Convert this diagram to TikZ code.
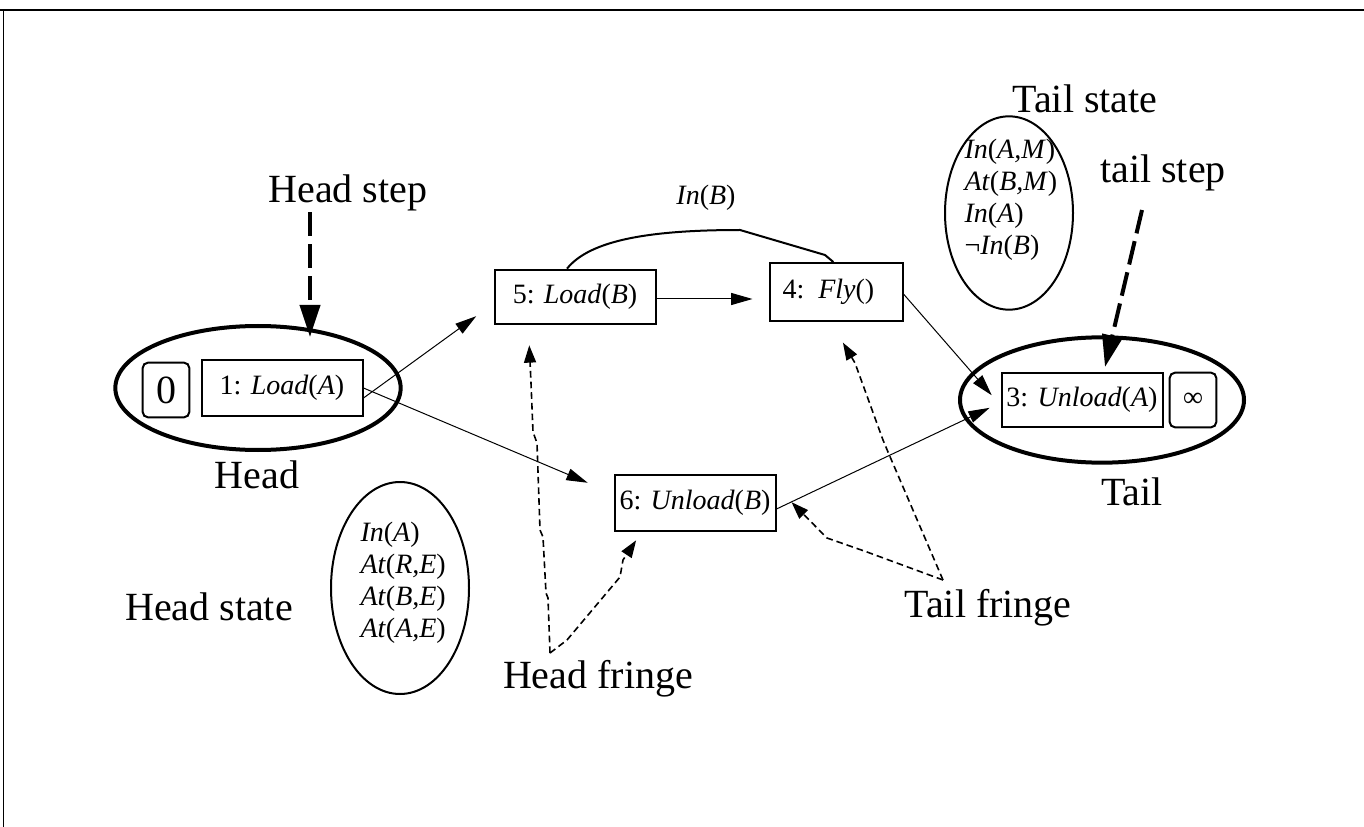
\documentclass[tikz,border=0pt]{standalone}
\usepackage{fontspec}
\setmainfont{Liberation Serif}
\usetikzlibrary{arrows.meta,shapes.geometric}

\newcommand{\lblfont}{\fontsize{30}{34}\selectfont}
\newcommand{\opfont}{\fontsize{21}{24}\selectfont}

\tikzset{every picture/.style={line width=0.75pt}}
\tikzset{
  opbox/.style={draw, line width=1.5pt, inner sep=0pt, minimum width=120.75pt, minimum height=42pt, font=\opfont},
  endbox/.style={draw, line width=1.5pt, rounded corners=4pt, inner sep=0pt, minimum width=35pt, minimum height=41pt},
  grpell/.style={draw, ellipse, line width=3pt, inner sep=0pt, minimum width=214pt, minimum height=93pt},
  stateell/.style={draw, ellipse, line width=1.5pt, inner sep=0pt},
  statetxt/.style={anchor=west, align=left, inner sep=0pt, font=\opfont},
  lbl/.style={anchor=base, inner sep=0pt, font=\lblfont},
  link/.style={-{Triangle[length=16pt,width=9pt]}, line width=0.75pt},
  fringe/.style={-{Triangle[length=13pt,width=9pt]}, line width=1.2pt, dash pattern=on 5pt off 3pt},
  stepline/.style={-{Triangle[length=24pt,width=15pt]}, line width=3pt, dash pattern=on 18pt off 6pt},
}

\begin{document}
\begin{tikzpicture}[x=0.75pt,y=0.75pt,yscale=-1,xscale=1]
\useasboundingbox (0,0) rectangle (1364,827);

%Frame
\draw [line width=1.5pt] (0,10) -- (1364,10) ;
\draw [line width=0.75pt] (3,10) -- (3,827) ;

%Shape: Ellipse [head]
\node [grpell] (headgrp) at (258,388) {};
%Shape: Ellipse [tail]
\node [grpell, minimum width=213pt, minimum height=94pt] (tailgrp) at (1102,400) {};
%Shape: Ellipse [head state]
\node [stateell, minimum width=103.5pt, minimum height=159pt] (hstate) at (400,588) {};
%Shape: Ellipse [tail state]
\node [stateell, minimum width=96pt, minimum height=145pt] (tstate) at (1009,213) {};

%Steps
\node [endbox, font=\lblfont] (zero) at (166,390) {0};
\node [opbox] (load1) at (282,388) {1: \textit{Load}(\textit{A})};
\node [opbox, minimum height=40.5pt] (unload3) at (1082,400) {3: \textit{Unload}(\textit{A})};
\node [endbox, font=\opfont] (infty) at (1193,400) {∞};
\node [opbox, minimum height=41pt] (load5) at (575,297) {5: \textit{Load}(\textit{B})};
\node [opbox, minimum width=99.75pt, minimum height=43.5pt, inner xsep=9.75pt, text width=80.25pt, align=left] (fly4) at (836,292) {4: \textit{Fly}()};
\node [opbox] (unload6) at (695,503) {6: \textit{Unload}(\textit{B})};

% Text Node
\node [statetxt] (hstatetxt) at (360,583) {\textit{In}(\textit{A})\\ \textit{At}(\textit{R,E})\\ \textit{At}(\textit{B,E})\\ \textit{At}(\textit{A,E})};
% Text Node
\node [statetxt] (tstatetxt) at (964,200) {\textit{In}(\textit{A,M})\\ \textit{At}(\textit{B,M})\\ \textit{In}(\textit{A})\\ ¬\textit{In}(\textit{B})};
% Text Node
\node [lbl] (hsteplbl) at (348,203) {Head step};
% Text Node
\node [lbl] (tstatelbl) at (1085,113) {Tail state};
% Text Node
\node [lbl] (tsteplbl) at (1163,183) {tail step};
% Text Node
\node [lbl] (headlbl) at (257,488) {Head};
% Text Node
\node [lbl] (taillbl) at (1132,505) {Tail};
% Text Node
\node [lbl] (hstatelbl) at (209,620) {Head state};
% Text Node
\node [lbl] (hfringelbl) at (598,688) {Head fringe};
% Text Node
\node [lbl] (tfringelbl) at (988,617) {Tail fringe};
% Text Node
\node [lbl, font=\opfont] (inblbl) at (706,205) {\textit{In}(\textit{B})};

%Ordering links
\draw [link, shorten >=16pt] ([yshift=7.5pt]load1.east) -- ([yshift=5pt]load5.west) ;
\draw [link, shorten >=21pt] (load1.east) -- ([yshift=-7pt]unload6.west) ;
\draw [link, shorten >=12pt] ([yshift=1.5pt]load5.east) -- ([yshift=1.5pt]load5.east -| fly4.west) ;
\draw [link, shorten >=10pt] ([yshift=1.5pt]fly4.east) -- ([yshift=4pt]unload3.west) ;
\draw [link, shorten >=9pt] ([yshift=4.5pt]unload6.east) -- ([yshift=2pt]unload3.west) ;

%Causal link In(B)
\draw [line width=1.5pt] ([xshift=-6pt]load5.north) .. controls (590,240) and (650,230) .. (740,230) -- (825,255) -- ([xshift=-2pt]fly4.north) ;

%Head step and tail step
\coordinate (hstip) at (310,337);
\draw [stepline] (hsteplbl.south -| hstip) -- (hstip) ;
\coordinate (tstail) at (1142,210);
\coordinate (tstip) at (1105,367);
\draw [stepline] (tstail) -- (tstip) ;

%Head fringe
\coordinate (hfapex) at (550,653);
\draw [fringe, shorten >=15pt] (hfapex) -- (548,598) -- (546,593) -- (543,537) -- (540,530) -- (537,443) -- (533,432) -- (531,383) -- ([xshift=-35pt]load5.south) ;
\draw [fringe, shorten >=7.5pt] (hfapex) -- (567,640) -- (620,577) -- (623,560) -- ([xshift=-40pt]unload6.south) ;

%Tail fringe
\coordinate (tfapex) at (943,580);
\draw [fringe, shorten >=18pt] (tfapex) -- (888,452) -- (883,440) -- (855,363) -- ([xshift=-4pt]fly4.south) ;
\draw [fringe, shorten >=16pt] (tfapex) -- (867,552) -- (827,538) -- ([yshift=-12pt]unload6.east) ;

\end{tikzpicture}
\end{document}
